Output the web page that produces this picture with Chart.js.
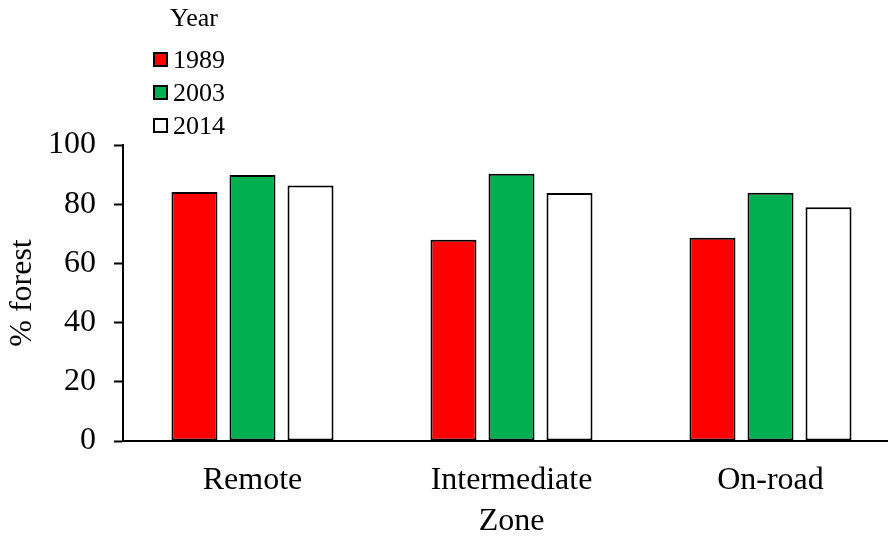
<!DOCTYPE html>
<html>
<head>
<meta charset="utf-8">
<title>% forest by zone</title>
<script src="https://cdn.jsdelivr.net/npm/chart.js@4/dist/chart.umd.min.js"></script>
<style>
  html, body { margin: 0; padding: 0; background: #fff; overflow: hidden; }
  canvas { display: block; }
</style>
</head>
<body>
<canvas id="c" width="900" height="538"></canvas>
<script>
// Zones along the x axis
const zones = ['Remote', 'Intermediate', 'On-road'];
// Survey years (one bar series each)
const years = ['1989', '2003', '2014'];
// Percent forest cover per zone
const forest1989 = [84.1, 68.0, 68.7];
const forest2003 = [89.9, 90.3, 83.9];
const forest2014 = [86.3, 83.8, 79.0];
// Y axis range and tick spacing
const yMin = 0, yMax = 100, yStep = 20;

const serif = "'Liberation Serif', 'Times New Roman', serif";
const barColors = ['#FF0000', '#00B050', '#FFFFFF'];
const seriesValues = [forest1989, forest2003, forest2014];

// Vertical legend with its own heading, drawn above the plot
const yearLegend = {
  id: 'yearLegend',
  afterDraw(chart) {
    const ctx = chart.ctx;
    ctx.save();
    ctx.font = '26px ' + serif;
    ctx.fillStyle = '#000';
    ctx.textBaseline = 'middle';
    ctx.textAlign = 'center';
    ctx.fillText('Year', 194, 19);
    ctx.textAlign = 'left';
    chart.data.datasets.forEach((ds, i) => {
      const cy = 60 + i * 33;
      ctx.fillStyle = ds.backgroundColor;
      ctx.fillRect(154, cy - 7, 13, 13);
      ctx.lineWidth = 2;
      ctx.strokeStyle = '#000';
      ctx.strokeRect(154, cy - 7, 13, 13);
      ctx.fillStyle = '#000';
      ctx.fillText(ds.label, 173, cy + 1);
    });
    ctx.restore();
  }
};

new Chart(document.getElementById('c'), {
  type: 'bar',
  data: {
    labels: zones,
    datasets: years.map((y, i) => ({
      label: y,
      data: seriesValues[i],
      backgroundColor: barColors[i],
      borderColor: '#000',
      borderWidth: 2,
      borderSkipped: false,
      categoryPercentage: 0.672,
      barPercentage: 0.793
    }))
  },
  options: {
    responsive: false,
    devicePixelRatio: 1,
    animation: false,
    layout: { padding: { top: 145, left: 0, right: 0, bottom: 0 } },
    plugins: {
      legend: { display: false },
      tooltip: { enabled: false }
    },
    scales: {
      x: {
        grid: { display: false, drawTicks: false },
        border: { display: true, color: '#000', width: 2, z: 1 },
        ticks: {
          color: '#000',
          font: { family: serif, size: 32 },
          padding: 20,
          maxRotation: 0
        },
        title: {
          display: true,
          text: 'Zone',
          color: '#000',
          font: { family: serif, size: 32, lineHeight: 1 },
          padding: { top: 0, bottom: 0 }
        },
        afterFit(scale) { scale.height = 97; }
      },
      y: {
        min: yMin,
        max: yMax,
        grid: {
          drawOnChartArea: false,
          drawTicks: true,
          tickLength: 9,
          tickWidth: 2,
          tickColor: '#000'
        },
        border: { display: true, color: '#000', width: 2, z: 1 },
        ticks: {
          stepSize: yStep,
          color: '#000',
          font: { family: serif, size: 32 },
          padding: 18
        },
        title: {
          display: true,
          text: '% forest',
          color: '#000',
          font: { family: serif, size: 32, lineHeight: 1.2 },
          padding: { top: 3, bottom: 0 }
        },
        afterFit(scale) { scale.width = 123; }
      }
    }
  },
  plugins: [yearLegend]
});
</script>
</body>
</html>
